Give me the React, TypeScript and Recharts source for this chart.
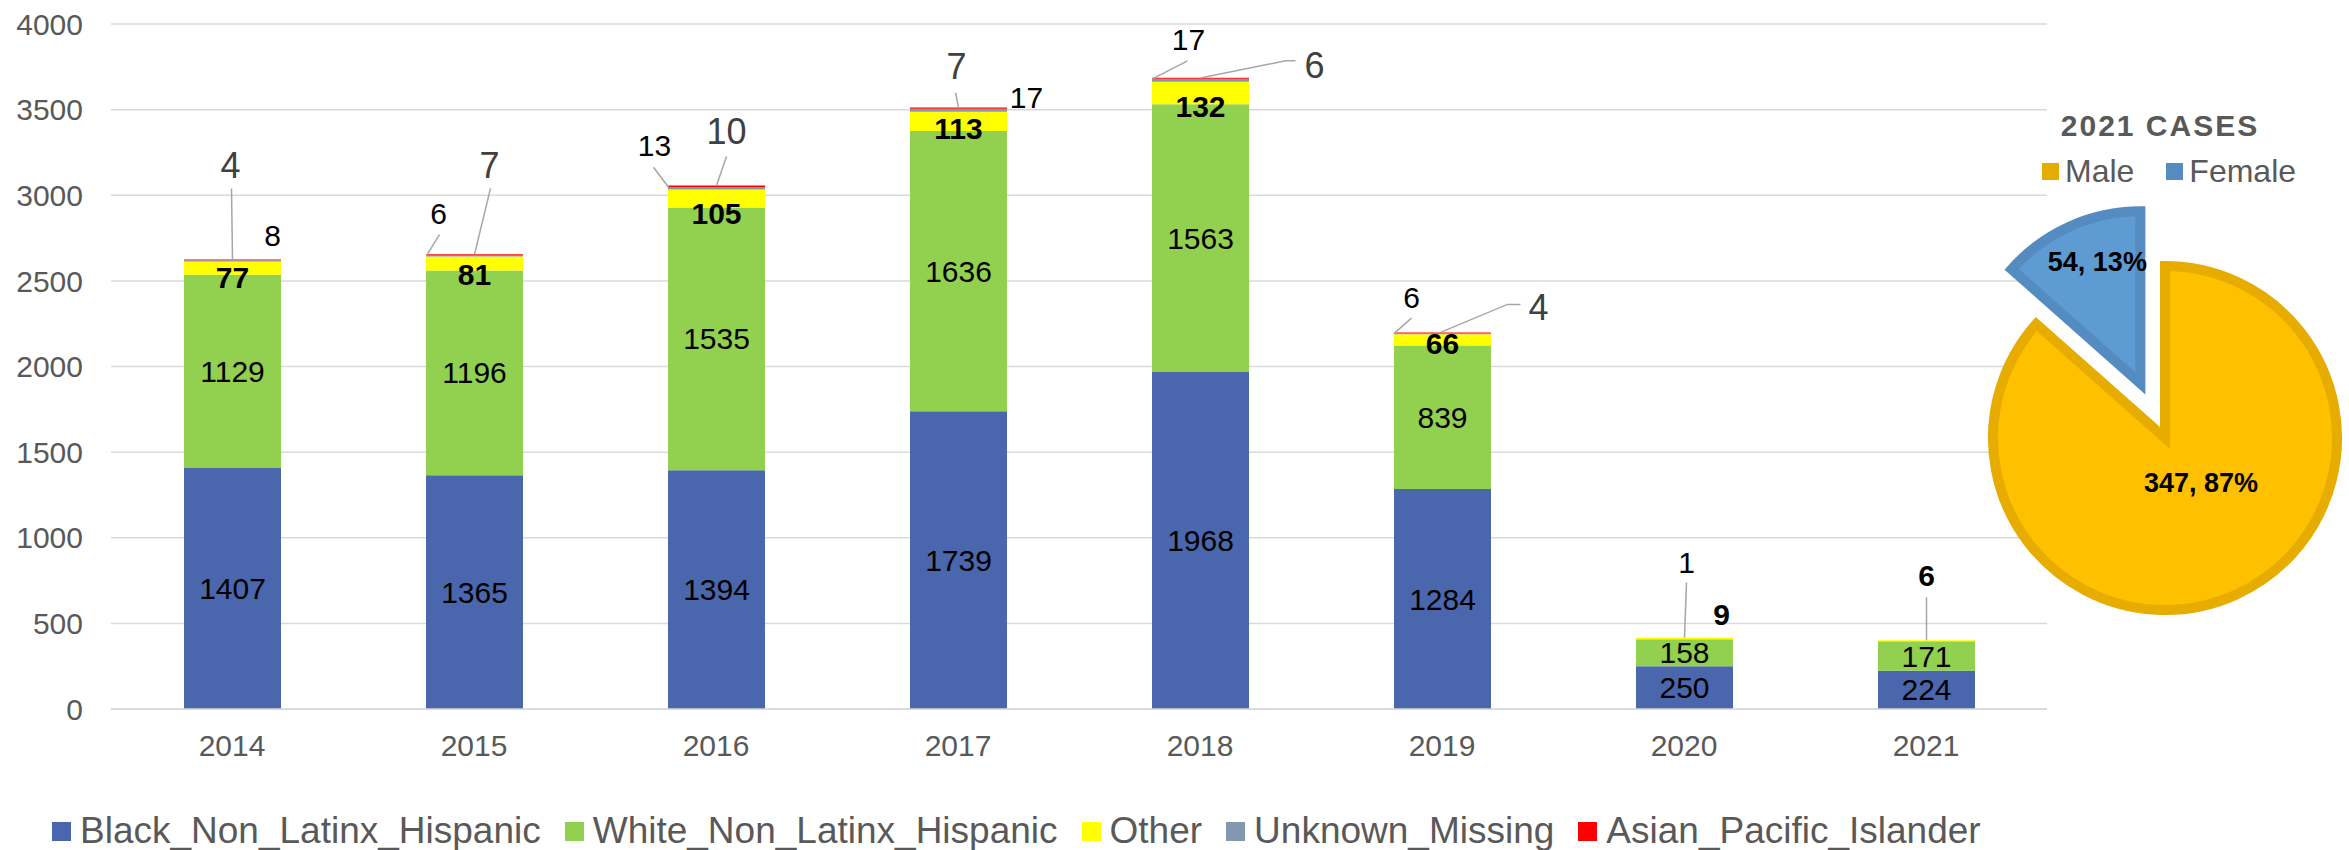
import {
  Bar,
  BarChart,
  CartesianGrid,
  Cell,
  LabelList,
  Legend,
  Pie,
  PieChart,
  XAxis,
  YAxis,
} from "recharts";

const YEARS = ["2014", "2015", "2016", "2017", "2018", "2019", "2020", "2021"];
const BLACK_NON_LATINX = [1407, 1365, 1394, 1739, 1968, 1284, 250, 224];
const WHITE_NON_LATINX = [1129, 1196, 1535, 1636, 1563, 839, 158, 171];
const OTHER = [77, 81, 105, 113, 132, 66, 9, 6];
const UNKNOWN_MISSING = [8, 6, 13, 17, 17, 6, 1, 0];
const ASIAN_PACIFIC = [4, 7, 10, 7, 6, 4, 0, 0];
const Y_TICKS = [0, 500, 1000, 1500, 2000, 2500, 3000, 3500, 4000];

const GENDER = ["Male", "Female"];
const GENDER_CASES = [347, 54];

const FONT = "'Liberation Sans', Arial, sans-serif";
const GREY_TEXT = "#595959";
const GRID = "#D9D9D9";
const LEADER = "#A6A6A6";

const SERIES = [
  { key: "black", name: "Black_Non_Latinx_Hispanic", color: "#4A66AC" },
  { key: "white", name: "White_Non_Latinx_Hispanic", color: "#92D050" },
  { key: "other", name: "Other", color: "#FFFF00" },
  { key: "unknown", name: "Unknown_Missing", color: "#8497B0" },
  { key: "asian", name: "Asian_Pacific_Islander", color: "#FF0000" },
];

const PIE_COLORS = [
  { fill: "#FFC000", stroke: "#E6AC00" },
  { fill: "#5F9BD3", stroke: "#548BC1" },
];

const rows = YEARS.map((year, i) => ({
  year,
  black: BLACK_NON_LATINX[i],
  white: WHITE_NON_LATINX[i],
  other: OTHER[i],
  unknown: UNKNOWN_MISSING[i],
  asian: ASIAN_PACIFIC[i],
}));

const pieData = GENDER.map((name, i) => ({ name, value: GENDER_CASES[i] }));

// hand-placed data callouts (offsets from the segment's top centre, like Excel's dragged labels)
type Callout = { tx: number; ty: number; leader?: [number, number][]; base?: boolean } | null;

const OTHER_CALLOUTS: Callout[] = [
  { tx: 0, ty: 3, base: true },
  { tx: 0, ty: 4, base: true },
  { tx: 0, ty: 6, base: true },
  { tx: 0, ty: -3, base: true },
  { tx: 0, ty: 2, base: true },
  { tx: 0, ty: -2, base: true },
  { tx: 37, ty: -23 },
  { tx: 0, ty: -65, leader: [[0, -43], [0, 0]] },
];

const UNKNOWN_CALLOUTS: Callout[] = [
  { tx: 40, ty: -25 },
  { tx: -36, ty: -42, leader: [[-35, -21], [-48, 0]] },
  { tx: -62, ty: -42, leader: [[-63, -20], [-48, 0]] },
  { tx: 68, ty: -11 },
  { tx: -12, ty: -39, leader: [[-13, -18], [-48, 0]] },
  { tx: -31, ty: -36, leader: [[-31, -15], [-48, 0]] },
  { tx: 2, ty: -75, leader: [[2, -55], [0, 0]] },
  null,
];

const ASIAN_CALLOUTS: Callout[] = [
  { tx: -2, ty: -94, leader: [[-1, -71], [0, 0]] },
  { tx: 15, ty: -89, leader: [[16, -66], [0, 0]] },
  { tx: 10, ty: -54, leader: [[10, -29], [0, 0]] },
  { tx: -2, ty: -41, leader: [[-3, -15], [0, 0]] },
  { tx: 114, ty: -13, leader: [[95, -17], [85, -17], [1, 0]] },
  { tx: 96, ty: -25, leader: [[78, -28], [65, -28], [-2, 0]] },
  null,
  null,
];

function makeCallout(
  callouts: Callout[],
  font: { size: number; weight: string; color: string }
) {
  return function CalloutLabel(props: any) {
    const { index, value } = props;
    const box = props.viewBox ?? props;
    const c = callouts[index];
    if (!c || !value) return null;
    const ax = box.x + box.width / 2;
    const ay = c.base ? box.y + box.height : box.y;
    return (
      <g>
        {c.leader && (
          <polyline
            points={c.leader.map(([x, y]) => `${ax + x},${ay + y}`).join(" ")}
            fill="none"
            stroke={LEADER}
            strokeWidth={1.5}
          />
        )}
        <text
          x={ax + c.tx}
          y={ay + c.ty}
          dy="0.355em"
          textAnchor="middle"
          fontSize={font.size}
          fontWeight={font.weight}
          fill={font.color}
          fontFamily={FONT}
        >
          {value}
        </text>
      </g>
    );
  };
}

function CenterLabel(props: any) {
  const box = props.viewBox ?? props;
  if (!props.value) return null;
  return (
    <text
      x={box.x + box.width / 2}
      y={box.y + box.height / 2}
      dy="0.355em"
      textAnchor="middle"
      fontSize={30}
      fill="#000"
      fontFamily={FONT}
    >
      {props.value}
    </text>
  );
}

function BottomLegend() {
  return (
    <div style={{ display: "flex", alignItems: "center", paddingLeft: 52, fontFamily: FONT }}>
      {SERIES.map((s) => (
        <div key={s.key} style={{ display: "flex", alignItems: "center", marginRight: 24 }}>
          <span style={{ width: 19, height: 19, background: s.color, marginRight: 9 }} />
          <span style={{ fontSize: 37, color: GREY_TEXT, lineHeight: "38px" }}>{s.name}</span>
        </div>
      ))}
    </div>
  );
}

function PieHeader() {
  return (
    <div style={{ position: "relative", width: 429, height: 200, fontFamily: FONT }}>
      <div
        style={{
          position: "absolute",
          left: 0,
          width: 480,
          top: 111,
          textAlign: "center",
          fontSize: 30,
          lineHeight: "30px",
          fontWeight: "bold",
          letterSpacing: 2,
          color: GREY_TEXT,
        }}
      >
        2021 CASES
      </div>
      <div
        style={{
          position: "absolute",
          left: 122,
          top: 155,
          display: "flex",
          alignItems: "center",
          fontSize: 32,
          lineHeight: "32px",
          color: GREY_TEXT,
        }}
      >
        {GENDER.map((g, i) => (
          <div key={g} style={{ display: "flex", alignItems: "center", marginRight: 32 }}>
            <span style={{ width: 17, height: 17, background: PIE_COLORS[i].stroke, marginRight: 6 }} />
            <span>{g}</span>
          </div>
        ))}
      </div>
    </div>
  );
}

const PIE_CX = 245;
const PIE_CY = 438;
const PIE_R = 172;
const EXPLODE = 60;
const total = GENDER_CASES.reduce((a, b) => a + b, 0);
const femaleMid = ((90 + (GENDER_CASES[1] / total) * 180) * Math.PI) / 180;
const FEMALE_CX = PIE_CX + EXPLODE * Math.cos(femaleMid);
const FEMALE_CY = PIE_CY - EXPLODE * Math.sin(femaleMid);

const PIE_LABEL_OFFSETS = [
  [36, 44],
  [-43, -122],
];

function pieLabel(only: number) {
  return (props: any) => {
    if (props.index !== only) return <g />;
    const cx = only === 0 ? PIE_CX : FEMALE_CX;
    const cy = only === 0 ? PIE_CY : FEMALE_CY;
    const [ox, oy] = PIE_LABEL_OFFSETS[only];
    return (
      <text
        x={cx + ox}
        y={cy + oy}
        dy="0.355em"
        textAnchor="middle"
        fontSize={27}
        fontWeight="bold"
        fill="#000"
        fontFamily={FONT}
      >
        {`${props.value}, ${Math.round(props.percent * 100)}%`}
      </text>
    );
  };
}

export default function App() {
  return (
    <div
      style={{
        position: "absolute",
        left: 0,
        top: 0,
        width: 2349,
        height: 850,
        background: "#fff",
        fontFamily: FONT,
      }}
    >
      <BarChart
        width={2349}
        height={850}
        data={rows}
        margin={{ top: 24, right: 302, bottom: 81, left: 0 }}
        barSize={97}
      >
        <CartesianGrid vertical={false} stroke={GRID} strokeWidth={1.5} />
        <XAxis
          dataKey="year"
          height={60}
          tickLine={false}
          tickSize={0}
          tickMargin={26}
          axisLine={{ stroke: GRID, strokeWidth: 1.5 }}
          tick={{ fontSize: 30, fill: GREY_TEXT, fontFamily: FONT }}
        />
        <YAxis
          width={111}
          domain={[0, 4000]}
          ticks={Y_TICKS}
          interval={0}
          axisLine={false}
          tickLine={false}
          tickSize={0}
          tickMargin={28}
          tick={{ fontSize: 30, fill: GREY_TEXT, fontFamily: FONT }}
        />
        <Legend
          layout="horizontal"
          verticalAlign="middle"
          align="center"
          wrapperStyle={{ top: 812, left: 0, width: 2349 }}
          content={() => <BottomLegend />}
        />
        {SERIES.map((s) => (
          <Bar
            key={s.key}
            dataKey={s.key}
            name={s.name}
            stackId="cases"
            fill={s.color}
            isAnimationActive={false}
          >
            {(s.key === "black" || s.key === "white") && (
              <LabelList dataKey={s.key} content={CenterLabel} />
            )}
            {s.key === "other" && (
              <LabelList
                dataKey="other"
                content={makeCallout(OTHER_CALLOUTS, { size: 30, weight: "bold", color: "#000" })}
              />
            )}
            {s.key === "unknown" && (
              <LabelList
                dataKey="unknown"
                content={makeCallout(UNKNOWN_CALLOUTS, { size: 30, weight: "normal", color: "#000" })}
              />
            )}
            {s.key === "asian" && (
              <LabelList
                dataKey="asian"
                content={makeCallout(ASIAN_CALLOUTS, { size: 36, weight: "normal", color: "#404040" })}
              />
            )}
          </Bar>
        ))}
      </BarChart>

      <div style={{ position: "absolute", left: 1920, top: 0 }}>
        <PieChart width={429} height={850} margin={{ top: 0, right: 0, bottom: 0, left: 0 }}>
          <Legend
            layout="horizontal"
            verticalAlign="middle"
            align="center"
            wrapperStyle={{ top: 0, left: 0, width: 429 }}
            content={() => <PieHeader />}
          />
          <Pie
            data={pieData}
            dataKey="value"
            nameKey="name"
            cx={PIE_CX}
            cy={PIE_CY}
            outerRadius={PIE_R}
            startAngle={90}
            endAngle={-270}
            label={pieLabel(0)}
            labelLine={false}
            isAnimationActive={false}
          >
            {pieData.map((d, i) => (
              <Cell
                key={d.name}
                fill={i === 0 ? PIE_COLORS[0].fill : "none"}
                stroke={i === 0 ? PIE_COLORS[0].stroke : "none"}
                strokeWidth={10}
              />
            ))}
          </Pie>
          <Pie
            data={pieData}
            dataKey="value"
            nameKey="name"
            cx={FEMALE_CX}
            cy={FEMALE_CY}
            outerRadius={PIE_R}
            startAngle={90}
            endAngle={-270}
            label={pieLabel(1)}
            labelLine={false}
            isAnimationActive={false}
          >
            {pieData.map((d, i) => (
              <Cell
                key={d.name}
                fill={i === 1 ? PIE_COLORS[1].fill : "none"}
                stroke={i === 1 ? PIE_COLORS[1].stroke : "none"}
                strokeWidth={10}
              />
            ))}
          </Pie>
        </PieChart>
      </div>
    </div>
  );
}
